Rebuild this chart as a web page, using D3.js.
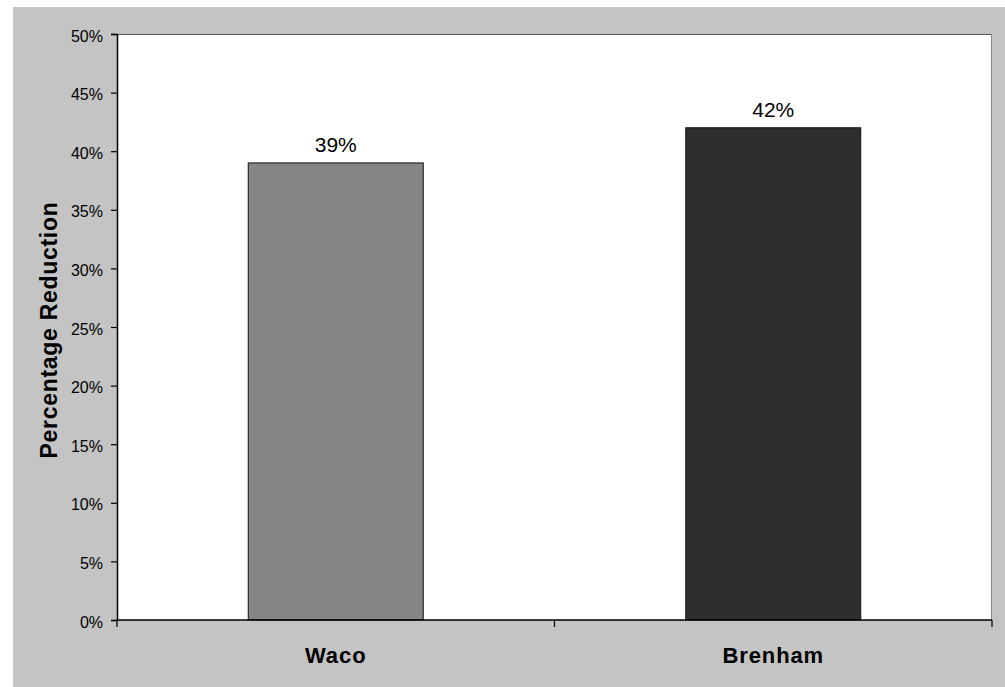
<!DOCTYPE html>
<html>
<head>
<meta charset="utf-8">
<script src="https://cdn.jsdelivr.net/npm/d3@7"></script>
<style>
  body { margin: 0; background: #ffffff; }
  svg { display: block; }
  text { font-family: "Liberation Sans", Arial, sans-serif; fill: #000; }
</style>
</head>
<body>
<svg id="chart" width="1005" height="687"></svg>
<script>
// Percentage reduction by city
const cities = ["Waco", "Brenham"];
const reductions = [39, 42];
const barColors = ["#858585", "#2e2e2e"];
const yTicks = [0, 5, 10, 15, 20, 25, 30, 35, 40, 45, 50];

const svg = d3.select("#chart");
const W = 1005, H = 687;

// chart area background
svg.append("rect")
  .attr("x", 13).attr("y", 7)
  .attr("width", W - 13).attr("height", H - 7)
  .attr("fill", "#c4c4c4");

const plot = { left: 117, top: 34, right: 992, bottom: 620 };

// plot area
svg.append("rect")
  .attr("x", plot.left).attr("y", plot.top)
  .attr("width", plot.right - plot.left).attr("height", plot.bottom - plot.top)
  .attr("fill", "#ffffff");
svg.append("line")
  .attr("x1", plot.left).attr("x2", plot.right)
  .attr("y1", plot.top + 0.5).attr("y2", plot.top + 0.5)
  .attr("stroke", "#555").attr("stroke-width", 1);
svg.append("line")
  .attr("x1", plot.right - 0.5).attr("x2", plot.right - 0.5)
  .attr("y1", plot.top).attr("y2", plot.bottom)
  .attr("stroke", "#888").attr("stroke-width", 1);

const x = d3.scaleBand().domain(cities).range([plot.left, plot.right]).padding(0);
const y = d3.scaleLinear().domain([0, 50]).range([plot.bottom, plot.top]);
const barW = x.bandwidth() * 0.4;

// bars
svg.append("g").selectAll("rect")
  .data(cities)
  .join("rect")
  .attr("x", (d) => x(d) + (x.bandwidth() - barW) / 2)
  .attr("y", (d, i) => y(reductions[i]))
  .attr("width", barW)
  .attr("height", (d, i) => y(0) - y(reductions[i]))
  .attr("fill", (d, i) => barColors[i])
  .attr("stroke", "#111")
  .attr("stroke-width", 1);

// value labels
svg.append("g").selectAll("text")
  .data(cities)
  .join("text")
  .attr("x", (d) => x(d) + x.bandwidth() / 2)
  .attr("y", (d, i) => y(reductions[i]) - 11)
  .attr("text-anchor", "middle")
  .attr("font-size", 21)
  .attr("fill", "#111")
  .text((d, i) => reductions[i] + "%");

// y axis
const yAxis = d3.axisLeft(y)
  .tickValues(yTicks)
  .tickSize(6)
  .tickPadding(8)
  .tickFormat((d) => d + "%");
const gy = svg.append("g")
  .attr("transform", `translate(${plot.left},0)`)
  .call(yAxis);
gy.select(".domain").attr("stroke", "#000").attr("stroke-width", 1.5);
gy.selectAll(".tick line").attr("stroke", "#000").attr("stroke-width", 1.2);
gy.selectAll(".tick text")
  .attr("font-size", 16)
  .attr("dy", "0.44em")
  .attr("font-family", "Liberation Sans, Arial, sans-serif")
  .attr("fill", "#000");

// x axis with category boundary ticks
const xAxisLine = svg.append("g");
xAxisLine.append("line")
  .attr("x1", plot.left).attr("x2", plot.right)
  .attr("y1", plot.bottom).attr("y2", plot.bottom)
  .attr("stroke", "#000").attr("stroke-width", 1.5);
const boundaries = cities.map((d) => x(d)).concat([x(cities[cities.length - 1]) + x.bandwidth()]);
xAxisLine.selectAll("line.tick")
  .data(boundaries)
  .join("line")
  .attr("class", "tick")
  .attr("x1", (d) => d).attr("x2", (d) => d)
  .attr("y1", plot.bottom).attr("y2", plot.bottom + 7)
  .attr("stroke", "#000").attr("stroke-width", 1.2);

// category labels
svg.append("g").selectAll("text")
  .data(cities)
  .join("text")
  .attr("x", (d) => x(d) + x.bandwidth() / 2)
  .attr("y", 663)
  .attr("text-anchor", "middle")
  .attr("font-size", 22)
  .attr("letter-spacing", 0.9)
  .attr("font-weight", "bold")
  .text((d) => d);

// y axis title
svg.append("text")
  .attr("transform", `translate(57,330) rotate(-90)`)
  .attr("text-anchor", "middle")
  .attr("font-size", 23)
  .attr("letter-spacing", 0.7)
  .attr("font-weight", "bold")
  .text("Percentage Reduction");
</script>
</body>
</html>
